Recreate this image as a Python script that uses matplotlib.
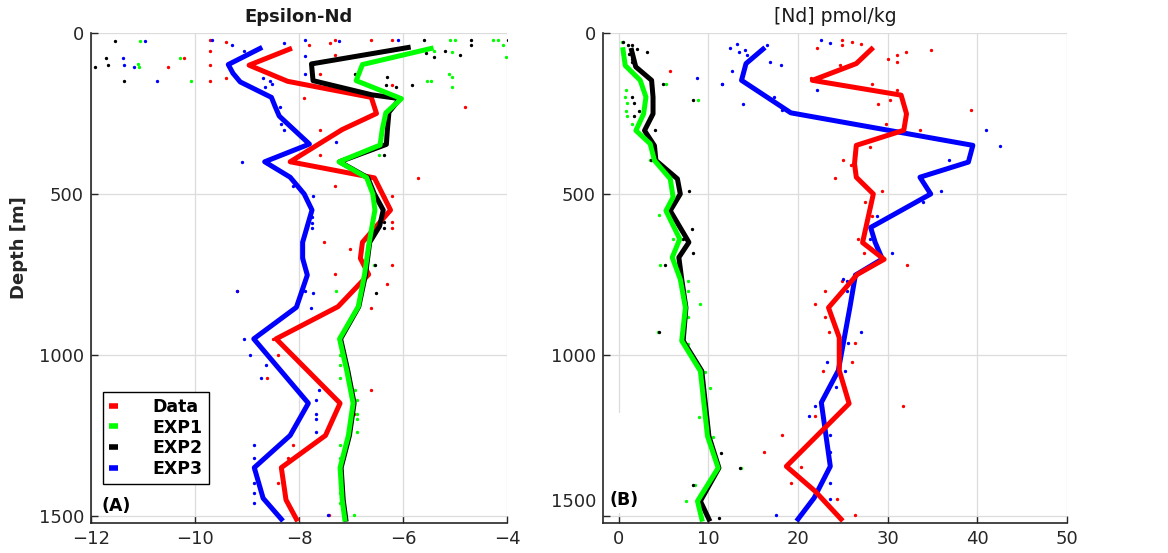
import numpy as np
import matplotlib.pyplot as plt
import matplotlib.transforms as mtransforms
from matplotlib.patches import Rectangle

# ---------------- Panel A : Epsilon-Nd profiles ----------------
data_eps_depth = [50, 100, 150, 200, 250, 300, 400, 450, 550, 650, 700, 750, 850, 950, 1150, 1250, 1350, 1450, 1510]
data_eps = [-8.18, -8.96, -8.22, -6.61, -6.51, -7.17, -8.17, -6.55, -6.24, -6.78, -6.82, -6.66, -7.25, -8.44, -7.21, -7.49, -8.34, -8.25, -8.05]

exp1_eps_depth = [48, 98, 148, 204, 248, 300, 348, 400, 449, 500, 550, 650, 750, 850, 950, 1050, 1150, 1250, 1350, 1450, 1510]
exp1_eps = [-5.46, -6.78, -6.90, -6.03, -6.33, -6.40, -6.44, -7.23, -6.70, -6.58, -6.54, -6.65, -6.74, -6.86, -7.22, -7.08, -6.96, -7.05, -7.21, -7.17, -7.12]

exp2_eps_depth = [45, 96, 148, 192, 204, 246, 300, 346, 400, 449, 500, 550, 600, 650, 750, 850, 950, 1050, 1150, 1250, 1350, 1450, 1510]
exp2_eps = [-5.90, -7.76, -7.73, -6.60, -6.06, -6.27, -6.30, -6.32, -7.22, -6.68, -6.55, -6.38, -6.45, -6.64, -6.72, -6.85, -7.20, -7.06, -6.94, -7.03, -7.19, -7.15, -7.10]

exp3_eps_depth = [48, 98, 125, 152, 200, 228, 258, 345, 400, 448, 500, 550, 650, 700, 752, 852, 950, 1150, 1250, 1350, 1445, 1510]
exp3_eps = [-8.75, -9.36, -9.27, -9.13, -8.53, -8.46, -8.38, -7.80, -8.66, -8.17, -7.90, -7.75, -7.93, -7.93, -7.84, -8.05, -8.87, -7.82, -8.17, -8.86, -8.69, -8.34]

# scattered points (value, depth)
data_eps_pts_x = [-9.71, -9.41, -7.81, -7.41, -7.31, -6.62, -6.21, -9.71, -7.31, -10.21, -9.71, -10.51, -7.60, -9.71, -9.41,
                  -6.21, -7.91, -4.80, -7.60, -7.60, -5.71, -7.31, -6.21, -6.21, -6.21, -7.51, -7.01, -6.21, -7.31, -6.31,
                  -9.19, -6.61, -8.50, -8.41, -8.62, -6.62, -6.94, -6.94, -8.12, -8.21, -8.41, -7.42]
data_eps_pts_d = [23, 28, 36, 31, 23, 21, 23, 57, 68, 78, 99, 107, 127, 148, 139,
                  160, 201, 229, 300, 379, 450, 474, 505, 588, 607, 648, 671, 721, 749, 780,
                  801, 853, 952, 1000, 1073, 1110, 1141, 1182, 1279, 1320, 1397, 1498]

exp1_eps_pts_x = [-11.05, -5.09, -5.00, -4.26, -4.18, -4.08, -5.40, -5.05, -4.02, -10.28, -11.10, -11.08, -5.12, -5.05, -10.08,
                  -5.53, -5.46, -5.05, -6.46, -6.80, -6.55, -7.28, -7.22, -7.21, -7.21, -6.92, -6.89, -6.89, -6.89, -6.89,
                  -7.21, -7.21, -7.22, -7.21, -7.21, -6.94]
exp1_eps_pts_d = [26, 23, 23, 23, 23, 36, 57, 59, 73, 78, 95, 107, 127, 138, 148,
                  148, 148, 169, 379, 700, 721, 801, 1000, 1031, 1071, 1110, 1141, 1182, 1199, 1240,
                  1279, 1320, 1397, 1428, 1459, 1498]

exp2_eps_pts_x = [-11.53, -5.59, -4.69, -4.69, -3.99, -5.55, -5.20, -4.90, -5.40, -11.71, -11.68, -11.92, -6.93, -6.31, -11.36,
                  -6.33, -6.13, -5.83, -6.37, -6.37, -6.37, -6.37, -6.53, -6.51]
exp2_eps_pts_d = [26, 23, 23, 36, 21, 62, 57, 68, 73, 78, 99, 107, 127, 138, 148,
                  160, 169, 160, 379, 505, 588, 607, 721, 809]

exp3_eps_pts_x = [-10.97, -9.67, -9.28, -8.29, -7.88, -7.23, -6.09, -9.06, -7.89, -11.38, -11.36, -11.18, -7.88, -10.74, -8.70,
                  -8.55, -8.52, -8.65, -8.37, -8.35, -8.29, -7.29, -9.10, -8.12, -7.73, -7.75, -7.75, -7.75, -7.94, -7.94,
                  -7.92, -7.88, -7.73, -9.19, -7.77, -9.05, -8.94, -8.63, -8.74, -7.61, -7.67, -7.67, -7.67, -7.67,
                  -8.87, -8.87, -8.87, -8.87, -8.87, -8.87, -7.45]
exp3_eps_pts_d = [26, 23, 36, 31, 21, 24, 23, 57, 71, 78, 99, 107, 127, 148, 139,
                  148, 158, 169, 229, 283, 300, 340, 400, 474, 505, 570, 590, 605, 650, 670,
                  700, 800, 808, 801, 853, 952, 1000, 1031, 1073, 1110, 1141, 1182, 1199, 1240,
                  1279, 1320, 1356, 1397, 1428, 1459, 1498]

# ---------------- Panel B : [Nd] profiles ----------------
data_nd_depth = [50, 95, 147, 193, 251, 302, 349, 406, 448, 500, 651, 703, 750, 853, 946, 1048, 1151, 1346, 1423, 1510]
data_nd = [28.2, 26.5, 21.6, 31.5, 32.1, 31.8, 26.5, 26.3, 26.5, 28.4, 27.2, 29.6, 26.6, 23.4, 24.6, 24.6, 25.7, 18.7, 21.9, 24.8]

exp1_nd_depth = [52, 101, 147, 199, 251, 303, 344, 396, 453, 510, 552, 640, 697, 765, 853, 956, 1050, 1252, 1351, 1454, 1510]
exp1_nd = [0.48, 0.73, 2.40, 3.04, 2.78, 1.92, 3.51, 3.99, 5.75, 6.07, 5.27, 6.81, 5.97, 6.87, 7.44, 7.03, 9.11, 9.90, 11.09, 8.79, 9.27]

exp2_nd_depth = [54, 105, 147, 199, 251, 303, 350, 396, 453, 500, 552, 650, 697, 765, 853, 956, 1050, 1252, 1351, 1454, 1510]
exp2_nd = [1.44, 1.9, 3.67, 3.83, 3.83, 2.88, 3.99, 4.15, 6.55, 6.87, 5.75, 7.83, 6.71, 7.03, 7.50, 7.19, 9.27, 10.06, 11.18, 9.11, 10.06]

exp3_nd_depth = [50, 95, 147, 248, 349, 401, 448, 500, 604, 650, 702, 752, 850, 1048, 1148, 1346, 1444, 1510]
exp3_nd = [16.1, 14.2, 13.7, 19.2, 39.5, 39.0, 33.6, 34.8, 28.1, 28.6, 29.4, 26.4, 25.8, 24.5, 22.6, 23.6, 21.8, 20.0]

data_nd_pts_x = [22.1, 24.9, 24.9, 26.0, 27.0, 30.0, 31.0, 31.0, 32.0, 34.8, 24.7, 21.5, 28.3, 31.0, 30.3, 28.9, 39.3, 29.8,
                 33.6, 28.0, 25.0, 25.9, 24.1, 29.4, 27.5, 28.3, 26.7, 27.4, 32.2, 24.9, 23.0, 21.9, 23.0, 23.5, 26.4,
                 26.0, 22.8, 31.7, 21.9, 18.2, 16.2, 20.3, 19.2, 24.3, 26.4, 5.75]
data_nd_pts_d = [48, 22, 37, 29, 34, 81, 69, 89, 58, 53, 98, 139, 157, 178, 209, 219, 240, 284,
                 300, 354, 394, 410, 450, 491, 524, 568, 640, 682, 721, 771, 802, 843, 882, 928, 963,
                 1021, 1051, 1159, 1189, 1248, 1300, 1349, 1397, 1447, 1498, 119]

exp1_nd_pts_x = [0.32, 5.27, 8.8, 0.8, 0.73, 0.9, 0.8, 0.9, 1.44, 3.5, 4.47, 6.1, 4.57, 7.76, 7.76, 9.04, 7.76, 4.4,
                 7.76, 9.68, 10.2, 8.95, 10.5, 13.6, 8.47, 7.5]
exp1_nd_pts_d = [28, 158, 209, 178, 199, 218, 241, 259, 282, 394, 565, 640, 721, 770, 801, 842, 882, 930,
                 965, 1052, 1104, 1193, 1254, 1350, 1403, 1454]

exp2_nd_pts_x = [0.5, 1.05, 1.44, 2.01, 1.12, 1.44, 3.19, 1.53, 4.95, 8.3, 1.53, 1.76, 1.76, 2.3, 4.09, 3.6, 7.83,
                 8.15, 7.2, 8.3, 5.2, 4.5, 11.4, 8.3, 11.15, 13.5]
exp2_nd_pts_d = [28, 38, 38, 49, 64, 80, 59, 90, 158, 209, 199, 218, 258, 241, 300, 394, 492,
                 609, 640, 682, 721, 930, 1304, 1403, 1506, 1350]

exp3_nd_pts_x = [12.4, 13.2, 13.4, 14.1, 14.3, 16.5, 12.6, 16.9, 18.1, 11.5, 13.9, 17.3, 18.2, 22.1, 22.6, 23.6, 36.8,
                 36.0, 33.9, 28.8, 28.0, 30.5, 25.5, 25.5, 25.5, 27.0, 25.6, 23.2, 25.2, 24.2, 21.9, 21.2, 23.6,
                 23.6, 23.6, 23.6, 17.5, 8.72, 11.5, 25.0, 41.0, 42.5]
exp3_nd_pts_d = [48, 34, 58, 53, 69, 37, 118, 89, 98, 157, 219, 199, 238, 178, 22, 30, 394,
                 490, 524, 568, 640, 682, 771, 802, 882, 928, 963, 1021, 1051, 1100, 1159, 1189, 1248,
                 1300, 1397, 1447, 1498, 139, 158, 765, 300, 352]

red, green, black, blue = (1, 0, 0), (0, 1, 0), (0, 0, 0), (0, 0, 1)
axcol = '#262626'

fig = plt.figure(figsize=(11.68, 5.53), dpi=100)
bot, hgt = 1 - 523 / 553, (523 - 33) / 553
axA = fig.add_axes([91 / 1168, bot, 416 / 1168, hgt])
axB = fig.add_axes([603 / 1168, bot, 464 / 1168, hgt])


def style(ax):
    ax.set_ylim(1522, 0)
    ax.set_yticks([0, 500, 1000, 1500])
    ax.grid(True, color='#dcdcdc', lw=0.9)
    ax.set_axisbelow(True)
    for s in ['top', 'right']:
        ax.spines[s].set_visible(False)
    for s in ['left', 'bottom']:
        ax.spines[s].set_color(axcol)
        ax.spines[s].set_linewidth(1.2)
    ax.tick_params(direction='in', length=5, width=1, colors=axcol, labelsize=13, pad=5)


ms = 2.8
# panel A
axA.plot(data_eps_pts_x, data_eps_pts_d, '.', color=red, ms=ms)
axA.plot(exp1_eps_pts_x, exp1_eps_pts_d, '.', color=green, ms=ms)
axA.plot(exp2_eps_pts_x, exp2_eps_pts_d, '.', color=black, ms=ms)
axA.plot(exp3_eps_pts_x, exp3_eps_pts_d, '.', color=blue, ms=ms)
lb, = axA.plot(exp3_eps, exp3_eps_depth, color=blue, lw=3.6)
lr, = axA.plot(data_eps, data_eps_depth, color=red, lw=3.6)
lk, = axA.plot(exp2_eps, exp2_eps_depth, color=black, lw=3.6)
lg, = axA.plot(exp1_eps, exp1_eps_depth, color=green, lw=3.6)
style(axA)
axA.set_xlim(-12, -4)
axA.set_xticks([-12, -10, -8, -6, -4])
axA.set_title('Epsilon-Nd', fontsize=13, fontweight='bold', color='#1a1a1a', pad=8)
axA.set_ylabel('Depth [m]', fontsize=13, fontweight='bold', color=axcol)
axA.yaxis.set_label_coords(-0.152, 0.561)
leg = axA.legend([lr, lg, lk, lb], ['Data', 'EXP1', 'EXP2', 'EXP3'], loc='lower left',
                 bbox_to_anchor=(0.029, 0.080), borderaxespad=0, prop={'weight': 'bold', 'size': 12.5},
                 handlelength=0.5, handletextpad=2.0, labelspacing=0.15, borderpad=0.35,
                 fancybox=False, framealpha=1, edgecolor='black')
leg.get_frame().set_linewidth(1.0)
for h in leg.get_lines():
    h.set_linewidth(4)
    h.set_solid_capstyle('butt')
axA.text(0.026, 0.035, '(A)', transform=axA.transAxes, fontsize=12.5, fontweight='bold',
         va='center', ha='left')

# panel B
axB.add_patch(Rectangle((-1.5, 1180), 6, 312, facecolor='white', edgecolor='none', zorder=0.8))
axB.plot(data_nd_pts_x, data_nd_pts_d, '.', color=red, ms=ms)
axB.plot(exp1_nd_pts_x, exp1_nd_pts_d, '.', color=green, ms=ms)
axB.plot(exp2_nd_pts_x, exp2_nd_pts_d, '.', color=black, ms=ms)
axB.plot(exp3_nd_pts_x, exp3_nd_pts_d, '.', color=blue, ms=ms)
axB.plot(exp3_nd, exp3_nd_depth, color=blue, lw=3.6)
axB.plot(data_nd, data_nd_depth, color=red, lw=3.6)
axB.plot(exp2_nd, exp2_nd_depth, color=black, lw=3.6)
axB.plot(exp1_nd, exp1_nd_depth, color=green, lw=3.6)
style(axB)
axB.set_xlim(-1.75, 50)
axB.set_xticks([0, 10, 20, 30, 40, 50])
axB.set_title('[Nd] pmol/kg', fontsize=13.5, color='#1a1a1a', pad=8)
axB.text(0.015, 0.047, '(B)', transform=axB.transAxes, fontsize=12.5, fontweight='bold',
         va='center', ha='left')
lab = axB.get_yticklabels()[-1]
lab.set_transform(lab.get_transform() + mtransforms.ScaledTranslation(0, 16 / 100, fig.dpi_scale_trans))

fig.savefig('out.png', dpi=100)
